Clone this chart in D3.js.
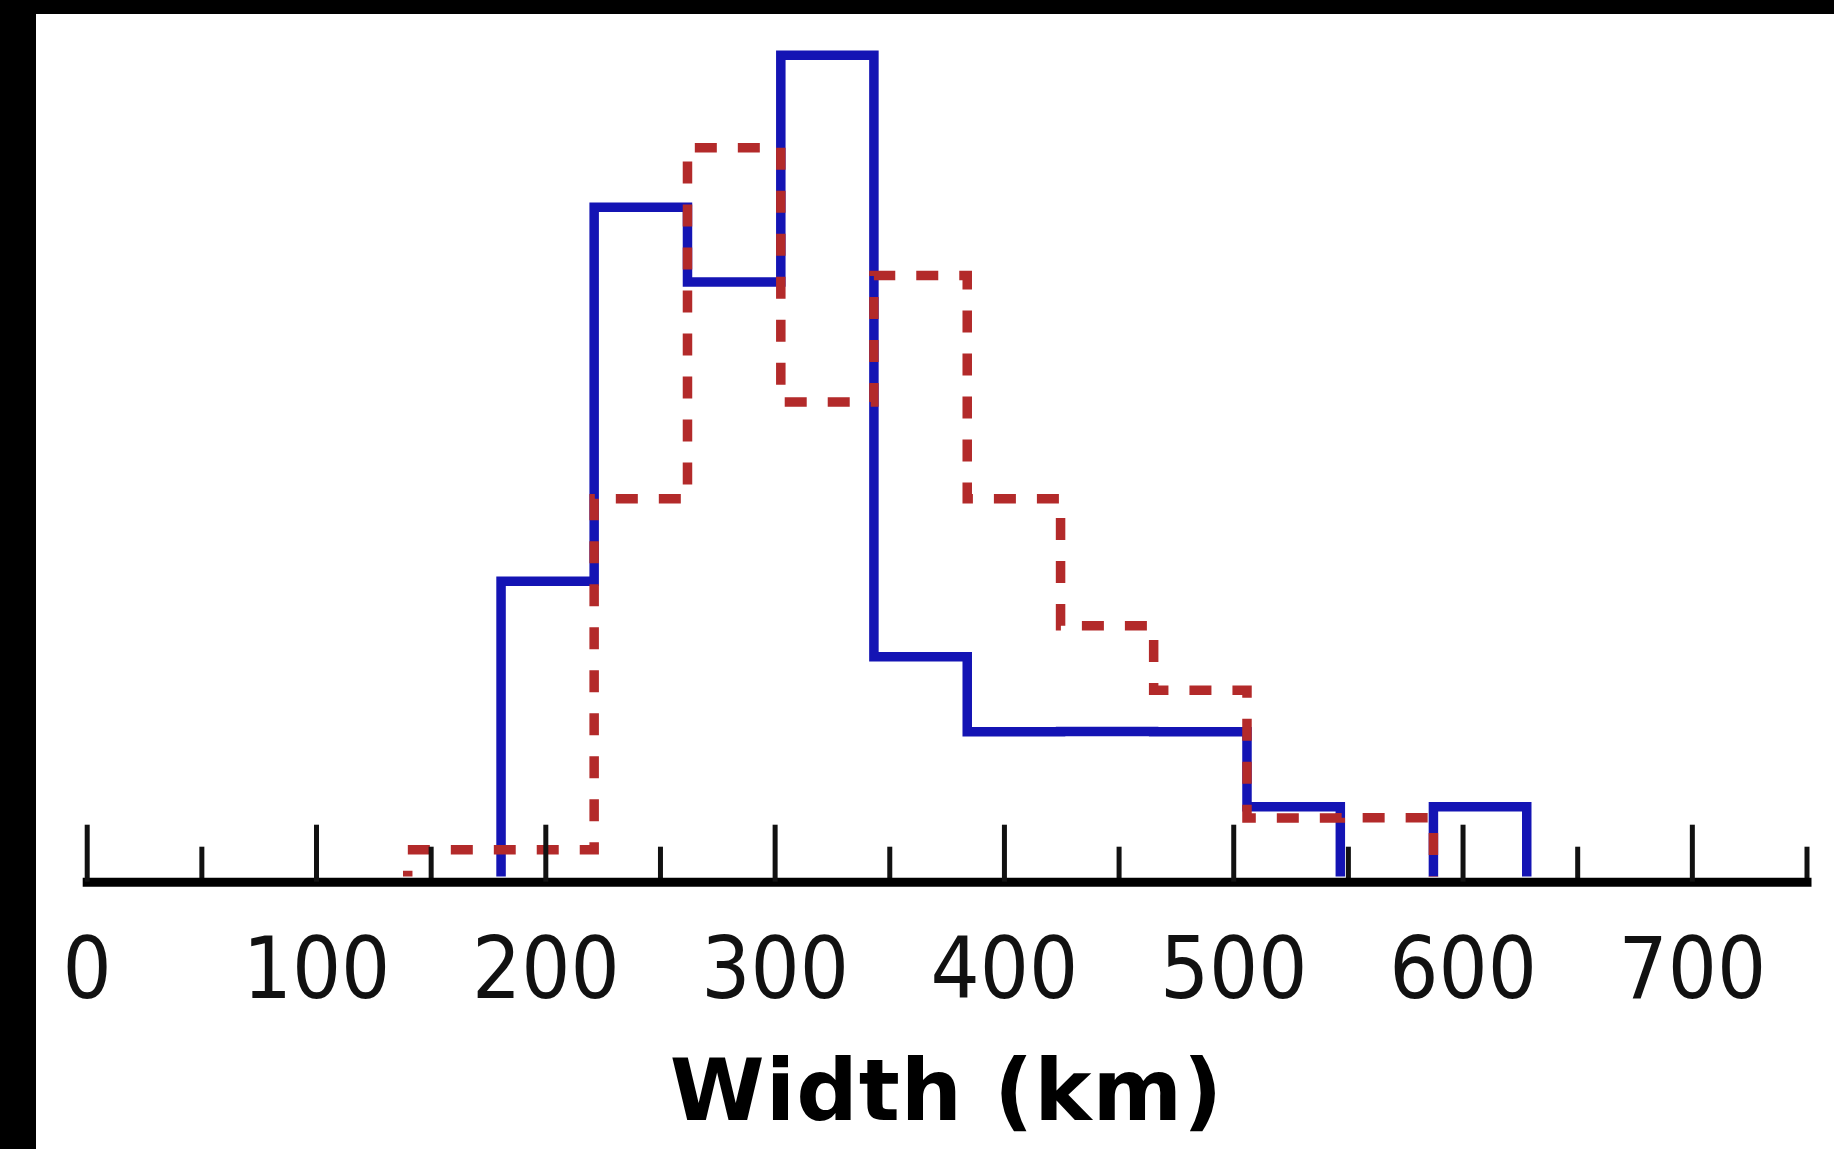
<!DOCTYPE html>
<html>
<head>
<meta charset="utf-8">
<script src="https://cdn.jsdelivr.net/npm/d3@7"></script>
<style>
  html, body { margin: 0; padding: 0; background: #ffffff; }
  svg { display: block; }
  .tick-label { font-family: "DejaVu Sans Condensed", "DejaVu Sans", sans-serif; font-stretch: condensed; }
</style>
</head>
<body>
<svg id="chart" width="1834" height="1149"></svg>
<script>
// Histogram bin edges (km), shared by both distributions
const binEdges = [140, 180.7, 221.3, 262, 302.7, 343.3, 384, 424.7, 465.3, 506, 546.7, 587.3, 628];
// Counts per bin
const blueCounts = [0, 4, 9, 8, 11, 3, 2, 2, 2, 1, 0, 1];
const redCounts  = [1, 1, 12, 23, 15, 19, 12, 8, 6, 2, 2, 0];
// Axis ticks
const majorTicks = [0, 100, 200, 300, 400, 500, 600, 700];
const minorTicks = [50, 150, 250, 350, 450, 550, 650, 750];
const xLabel = "Width (km)";

const W = 1834, H = 1149;
const svg = d3.select("#chart");

svg.append("rect").attr("x", 0).attr("y", 0).attr("width", W).attr("height", H).attr("fill", "#ffffff");
// dark frame strips on the top and left edges
svg.append("rect").attr("x", 0).attr("y", 0).attr("width", W).attr("height", 14).attr("fill", "#000");
svg.append("rect").attr("x", 0).attr("y", 0).attr("width", 36).attr("height", H).attr("fill", "#000");

const baseY = 881.7;
const axisW = 9;
const x = d3.scaleLinear().domain([0, 750]).range([86.7, 1806.5]);
const y = d3.scaleLinear().domain([0, 0.0065]).range([baseY, 29.1]);

// keep the outlines above the axis line
svg.append("defs").append("clipPath").attr("id", "above-axis")
  .append("rect").attr("x", 0).attr("y", 0).attr("width", W).attr("height", 876.5);

// Normalised (density) histogram as a step outline
function density(counts) {
  const n = d3.sum(counts);
  return counts.map((c, i) => c / (n * (binEdges[i + 1] - binEdges[i])));
}
function stepPoints(vals) {
  const pts = [[binEdges[0], 0]];
  vals.forEach((v, i) => {
    pts.push([binEdges[i], v]);
    pts.push([binEdges[i + 1], v]);
  });
  pts.push([binEdges[binEdges.length - 1], 0]);
  return pts;
}
const line = d3.line().x(d => x(d[0])).y(d => y(d[1]));

const gHist = svg.append("g").attr("clip-path", "url(#above-axis)");

gHist.append("path")
  .attr("d", line(stepPoints(density(blueCounts))))
  .attr("fill", "none")
  .attr("stroke", "#1414b4")
  .attr("stroke-width", 9.5)
  .attr("stroke-linejoin", "miter");

gHist.append("path")
  .attr("d", line(stepPoints(density(redCounts))))
  .attr("fill", "none")
  .attr("stroke", "#b32a2a")
  .attr("stroke-width", 9.5)
  .attr("stroke-dasharray", "22,21")
  .attr("stroke-dashoffset", 11);

// Minor ticks
const minorAxis = d3.axisBottom(x).tickValues(minorTicks).tickSizeInner(-35).tickSizeOuter(0).tickFormat("");
const gMinor = svg.append("g").attr("transform", `translate(0,${baseY})`).call(minorAxis);
gMinor.select(".domain").remove();
gMinor.selectAll(".tick line").attr("stroke", "#111").attr("stroke-width", 5);

// Major ticks, labels and axis line
const majorAxis = d3.axisBottom(x).tickValues(majorTicks).tickSizeInner(-57).tickSizeOuter(0).tickPadding(55).tickFormat(d3.format("d"));
const gMajor = svg.append("g").attr("transform", `translate(0,${baseY})`).call(majorAxis);
gMajor.select(".domain").attr("stroke", "#000").attr("stroke-width", axisW).attr("stroke-linecap", "square");
gMajor.selectAll(".tick line").attr("stroke", "#111").attr("stroke-width", 5);
gMajor.selectAll(".tick text")
  .attr("class", "tick-label")
  .attr("fill", "#111")
  .attr("font-size", 86);

svg.append("text")
  .attr("x", x(375))
  .attr("y", 1120)
  .attr("text-anchor", "middle")
  .attr("font-family", "DejaVu Sans, sans-serif")
  .attr("font-weight", "bold")
  .attr("font-size", 86)
  .attr("letter-spacing", 1)
  .attr("fill", "#000")
  .text(xLabel);
</script>
</body>
</html>
